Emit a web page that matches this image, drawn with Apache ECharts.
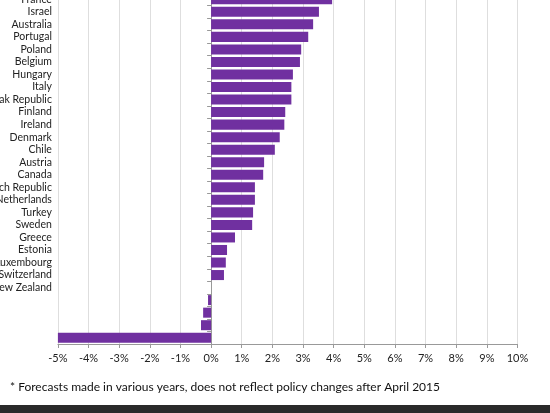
<!DOCTYPE html>
<html><head><meta charset="utf-8">
<script src="https://cdn.jsdelivr.net/npm/echarts@6/dist/echarts.min.js"></script>
<style>html,body{margin:0;padding:0;background:#fff}#c{width:550px;height:413px}
#bar{position:absolute;left:0;top:405px;width:550px;height:8px;background:#2a2a2a}</style>
</head><body><div id="c"></div><div id="bar"></div>
<script>
const categories = ['France','Israel','Australia','Portugal','Poland','Belgium','Hungary','Italy','Slovak Republic','Finland','Ireland','Denmark','Chile','Austria','Canada','Czech Republic','Netherlands','Turkey','Sweden','Greece','Estonia','Luxembourg','Switzerland','New Zealand',' ','  ','   ','    '];
const values = [3.95,3.52,3.33,3.17,2.94,2.90,2.67,2.62,2.62,2.42,2.39,2.24,2.08,1.73,1.70,1.43,1.43,1.37,1.34,0.78,0.52,0.48,0.42,0,-0.10,-0.26,-0.33,-5.0];
const xTicks = {min:-5, max:10, interval:1};
const chart = echarts.init(document.getElementById('c'));
chart.setOption({
  animation:false,
  grid:{left:57.9, right:32.5, top:-7, bottom:69, containLabel:false, outerBoundsMode:'none'},
  xAxis:{type:'value', min:xTicks.min, max:xTicks.max, interval:xTicks.interval,
    axisLabel:{formatter:v=>v+'%', color:'#222', fontSize:11, fontFamily:'Lato', margin:9},
    axisLine:{show:true, lineStyle:{color:'#999'}}, axisTick:{show:true, length:4, lineStyle:{color:'#999'}},
    splitLine:{lineStyle:{color:'#dedede'}}},
  yAxis:{type:'category', data:categories, inverse:true,
    axisLine:{show:true, onZero:true, lineStyle:{color:'#999'}},
    axisTick:{show:true, length:4, lineStyle:{color:'#999'}},
    axisLabel:{interval:0, color:'#222', fontSize:10.5, fontFamily:'Lato', margin:6}},
  series:[{type:'bar', data:values, barCategoryGap:'20%', itemStyle:{color:'#7030a0'}}],
  graphic:[{type:'text', left:10, top:381, style:{text:'* Forecasts made in various years, does not reflect policy changes after April 2015', fontSize:12, fontFamily:'Lato', fill:'#111'}}]
});
</script></body></html>
